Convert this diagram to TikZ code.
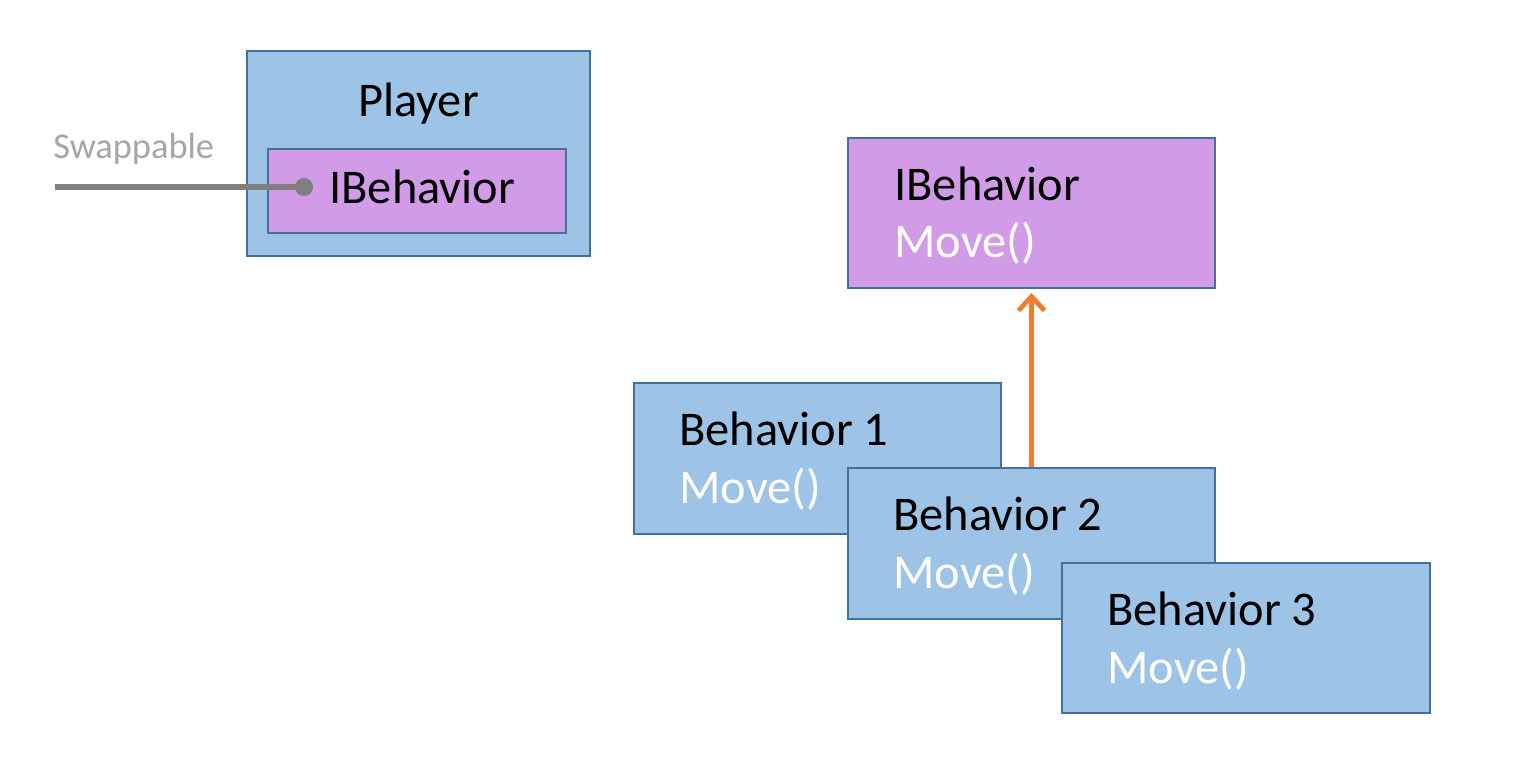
\documentclass[tikz,border=0pt]{standalone}
\usepackage{fontspec}
\setmainfont{Carlito}
\usetikzlibrary{arrows.meta}
\definecolor{boxblue}{HTML}{9DC3E6}
\definecolor{boxpurple}{HTML}{D29BE8}
\definecolor{boxedge}{HTML}{41719C}
\definecolor{linegray}{HTML}{7F7F7F}
\definecolor{textgray}{HTML}{A6A6A6}
\definecolor{arroworange}{HTML}{ED7D31}

\begin{document}
\begin{tikzpicture}[x=0.5pt,y=-0.5pt]
    \useasboundingbox (0,0) rectangle (1519,783);
    \begin{scope}[every node/.style={rectangle, draw=boxedge, line width=1pt, inner sep=0pt}]
        \node[fill=boxblue, minimum width=171.5pt, minimum height=102.5pt] (player) at (418.5,153.5) {};
        \node[fill=boxpurple, minimum width=149pt, minimum height=42pt] (slot) at (417,191) {};
        \node[fill=boxpurple, minimum width=183.5pt, minimum height=75pt] (ib) at (1031.5,213) {};
        \node[fill=boxblue, minimum width=183.5pt, minimum height=75.5pt] (b1) at (817.5,458.5) {};
        \node[fill=boxblue, minimum width=183.5pt, minimum height=75.5pt] (b2) at (1031.5,543.5) {};
        \node[fill=boxblue, minimum width=184pt, minimum height=75pt] (b3) at (1246,638) {};
    \end{scope}
    \begin{scope}[every node/.style={anchor=base west, inner sep=0pt, font=\fontsize{24.2}{29}\selectfont}]
        \node[anchor=base] (playerlabel) at (418.5,116) {Player};
        \node (slotlabel) at (329,203) {IBehavior};
        \node (iblabel) at (894,200) {IBehavior};
        \node[white] (ibmove) at (894,257) {Move()};
        \node (b1label) at (679,445) {Behavior 1};
        \node[white] (b1move) at (679,503) {Move()};
        \node (b2label) at (893,530) {Behavior 2};
        \node[white] (b2move) at (893,588) {Move()};
        \node (b3label) at (1107,625) {Behavior 3};
        \node[white] (b3move) at (1107,683) {Move()};
        \node[textgray, font=\fontsize{18.2}{22}\selectfont] (swaplabel) at (53,158) {Swappable};
    \end{scope}
    \coordinate (swapend) at (55,187);
    \node[circle, fill=linegray, minimum size=9pt, inner sep=0pt] (socket) at (304,187) {};
    \draw[linegray, line width=2.6pt] (swapend) -- (socket.center);
    \draw[arroworange, line width=2.4pt, -{Straight Barb[length=7pt,width=13pt]}, shorten >=2pt] (b2.north) -- (ib.south);
\end{tikzpicture}
\end{document}
